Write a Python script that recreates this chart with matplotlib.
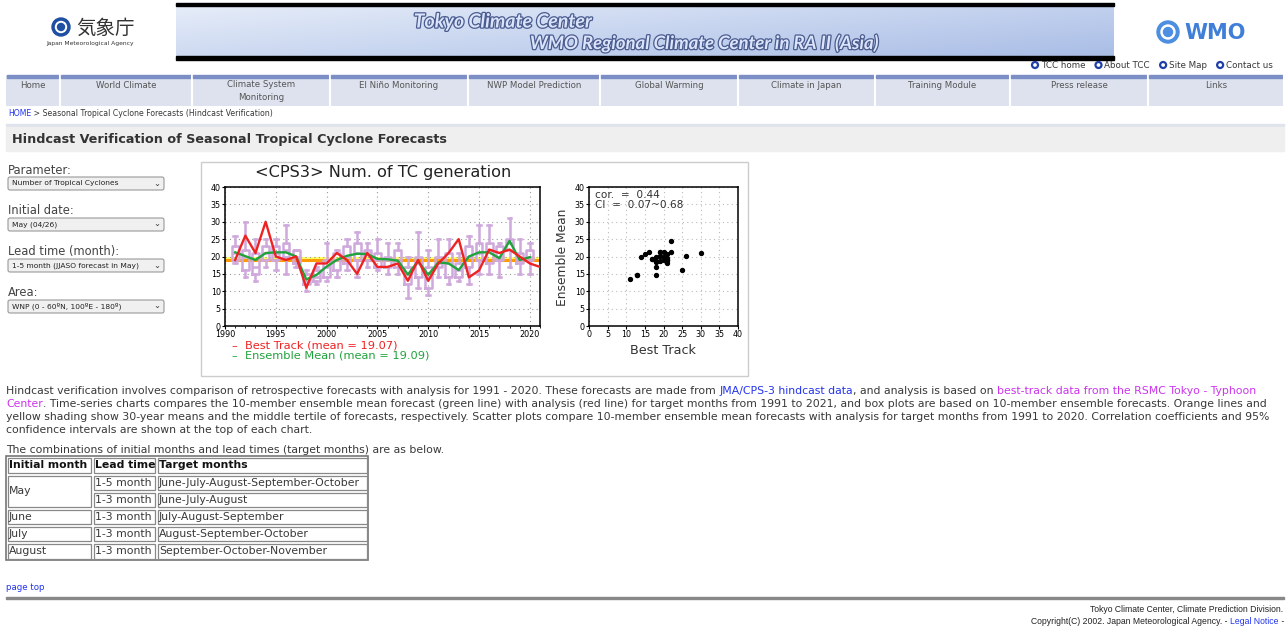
import numpy as np
import matplotlib.pyplot as plt
from matplotlib.patches import Rectangle, FancyBboxPatch, Circle
import matplotlib.patheffects as pe

# ---- data ----
years = list(range(1991, 2022))
best_track = [19, 26, 21, 30, 20, 19, 20, 11, 18, 18, 21, 19, 15, 21, 17, 17,
              18, 13, 19, 13, 18, 21, 25, 14, 16, 22, 21, 22, 20, 18, 17]
ens_years = list(range(1991, 2021))
ens_mean = [21.2, 20.1, 19.0, 21.0, 21.2, 21.2, 20.0, 13.4, 14.7, 17.1,
            19.0, 20.2, 20.8, 20.7, 19.3, 19.2, 18.8, 14.8, 18.7, 14.7,
            18.3, 18.0, 16.1, 20.0, 21.2, 21.2, 19.5, 24.5, 19.0, 19.8]
# 10-member ensemble box plots
box_lo  = [18, 14, 13, 17, 16, 15, 17, 10, 12, 13, 14, 16, 14, 17, 16, 15, 15,  8, 11,  9, 14, 12, 13, 12, 15, 15, 14, 17, 15, 15]
box_q1  = [19, 16, 15, 19, 19, 20, 18, 12, 13, 14, 16, 18, 19, 19, 17, 17, 17, 12, 14, 11, 17, 14, 14, 17, 19, 18, 19, 22, 18, 19]
box_med = [21, 20, 17, 21, 21, 22, 20, 13, 14, 17, 19, 20, 21, 21, 19, 19, 19, 15, 18, 14, 18, 18, 16, 20, 21, 22, 20, 24, 19, 20]
box_q3  = [23, 22, 21, 23, 23, 24, 22, 15, 16, 19, 21, 23, 24, 22, 21, 20, 22, 17, 20, 17, 20, 21, 18, 23, 24, 24, 23, 25, 21, 22]
box_hi  = [26, 30, 25, 25, 25, 29, 22, 16, 17, 24, 22, 25, 27, 24, 25, 24, 24, 20, 27, 22, 25, 25, 21, 26, 29, 29, 24, 31, 25, 24]
clim_mean = 19.09
tercile = (18.7, 20.0)
best_mean, ens_mean_avg = 19.07, 19.09
cor, ci_lo, ci_hi = 0.44, 0.07, 0.68

nav_items = ["Home", "World Climate", "Climate System\nMonitoring", "El Niño Monitoring",
             "NWP Model Prediction", "Global Warming", "Climate in Japan",
             "Training Module", "Press release", "Links"]
nav_edges = [6, 60, 192, 330, 468, 600, 738, 875, 1010, 1148, 1284]
form_labels = ["Parameter:", "Initial date:", "Lead time (month):", "Area:"]
form_values = ["Number of Tropical Cyclones", "May (04/26)",
               "1-5 month (JJASO forecast in May)", "WNP (0 - 60ºN, 100ºE - 180º)"]
table_rows = [("1-5 month", "June-July-August-September-October"),
              ("1-3 month", "June-July-August"),
              ("1-3 month", "July-August-September"),
              ("1-3 month", "August-September-October"),
              ("1-3 month", "September-October-November")]
table_init = ["May", "June", "July", "August"]

W, H = 1287, 630
fig = plt.figure(figsize=(W / 100, H / 100), dpi=100)
page = fig.add_axes([0, 0, 1, 1])
page.set_xlim(0, W)
page.set_ylim(H, 0)
page.axis('off')
renderer = fig.canvas.get_renderer()

TXT = '#383838'
LINK = '#2233ee'
MAG = '#cc33ee'


def text_w(s, **kw):
    t = page.text(0, 0, s, **kw)
    w = t.get_window_extent(renderer).width
    t.remove()
    return w


def run_w(s, **kw):
    return text_w('|' + s + '|', **kw) - text_w('||', **kw)


def fit(s, width, **kw):
    return 10 * width / run_w(s, fontsize=10, **kw)


def runs(x, y, parts, **kw):
    for s, c in parts:
        page.text(x, y, s, color=c, va='center', **kw)
        x += run_w(s, **kw)


def ax_at(x0, y0, x1, y1):
    return fig.add_axes([x0 / W, 1 - y1 / H, (x1 - x0) / W, (y1 - y0) / H])


# ---- header ----
grad = np.linspace(0, 1, 200)[None, :] * 0.6 + np.linspace(0, 1, 40)[:, None] * 0.4
page.imshow(grad, extent=[176, 1114, 57, 5], cmap=plt.matplotlib.colors.LinearSegmentedColormap.from_list(
    'b', ['#e6edf9', '#a9bde6']), aspect='auto', zorder=1)
page.add_patch(Rectangle((176, 3), 938, 3, color='black', zorder=2))
page.add_patch(Rectangle((176, 56), 938, 4, color='black', zorder=2))
banner_fx = [pe.withStroke(linewidth=1.8, foreground='#4a5b8e')]
page.text(503, 22, "Tokyo Climate Center", fontsize=14, style='italic', weight='bold',
          family='Lato', color='#dbe4fb', ha='center', va='center', path_effects=banner_fx, zorder=3)
page.text(704, 43, "WMO Regional Climate Center in RA II (Asia)", fontsize=13.3, style='italic',
          weight='bold', family='Lato', color='#dbe4fb', ha='center', va='center',
          path_effects=banner_fx, zorder=3)

# JMA logo
page.add_patch(Circle((61, 27), 9, color='#1f4fa3', zorder=2))
page.add_patch(Circle((61, 27), 5.5, color='white', zorder=3))
page.add_patch(Circle((61, 27), 3.5, color='#1f4fa3', zorder=4))
page.text(76, 28, "気象庁", fontsize=14, family=['Noto Sans CJK JP', 'DejaVu Sans'],
          color='#333333', va='center')
page.text(90, 44, "Japan Meteorological Agency", fontsize=4.3, color='#333333',
          ha='center', va='center')

# WMO logo
page.add_patch(Circle((1168, 32), 11, color='#4d8ee0', zorder=2))
page.add_patch(Circle((1168, 32), 7, color='white', zorder=3))
page.add_patch(Circle((1168, 32), 4.5, color='#4d8ee0', zorder=4))
page.text(1184, 33, "WMO", fontsize=15, weight='bold', color='#3f7fd8', va='center')

# top links
x = 1032
for lab in ["TCC home", "About TCC", "Site Map", "Contact us"]:
    page.add_patch(Circle((x + 3, 65), 3, facecolor='white', edgecolor='#1f3fa8', lw=1.6, zorder=3))
    page.text(x + 9, 66, lab, fontsize=6.3, color=TXT, va='center')
    x += 9 + run_w(lab, fontsize=6.3) + 10

# nav bar
page.add_patch(Rectangle((6, 75), 1278, 31, facecolor='#dde2ee', edgecolor='none'))
for a, b, lab in zip(nav_edges[:-1], nav_edges[1:], nav_items):
    page.add_patch(Rectangle((a + 1, 75), b - a - 2, 2.5, color='#7b8ec6', zorder=2))
    page.plot([b, b], [75, 106], color='white', lw=1.5)
    page.text((a + b) / 2, 86 if '\n' not in lab else 91, lab, fontsize=6.2, color='#555555',
              ha='center', va='center', linespacing=1.5)

runs(8, 114, [("HOME", LINK), (" > Seasonal Tropical Cyclone Forecasts (Hindcast Verification)", TXT)],
     fontsize=5.6)
page.add_patch(Rectangle((6, 124), 1278, 2, color='#dfe4ec'))
page.add_patch(Rectangle((6, 127), 1278, 24, color='#efefef'))
page.text(12, 139, "Hindcast Verification of Seasonal Tropical Cyclone Forecasts", fontsize=9.2,
          weight='bold', color='#333333', va='center')

# form
for i, (lab, val) in enumerate(zip(form_labels, form_values)):
    y = 170 + i * 41
    page.text(8, y, lab, fontsize=8.3, color='#444444', va='center')
    page.add_patch(FancyBboxPatch((8, y + 7), 156, 13, boxstyle='round,pad=0,rounding_size=2',
                                  facecolor='#f0f0f0', edgecolor='#999999', lw=0.8))
    page.text(12, y + 13.5, val, fontsize=5.4, color='#222222', va='center')
    page.text(157, y + 13, "⌄", fontsize=6, color='#333333', ha='center', va='center')

# chart frame
page.add_patch(Rectangle((201, 162), 547, 214, facecolor='white', edgecolor='#cccccc', lw=1))

# ---- time series ----
ts = ax_at(225, 187, 540, 326)
ts.axhspan(*tercile, color='#ffff66', zorder=1, lw=0)
ts.axhline(clim_mean, color='#ff9a00', lw=2.2, zorder=2)
stats = [dict(med=m, q1=a, q3=b, whislo=lo, whishi=hi, fliers=[])
         for lo, a, m, b, hi in zip(box_lo, box_q1, box_med, box_q3, box_hi)]
purple = '#cfa8dc'
ts.bxp(stats, positions=ens_years, widths=0.68, manage_ticks=False,
       boxprops=dict(color=purple, lw=1.8), whiskerprops=dict(color=purple, lw=1.8),
       capprops=dict(color=purple, lw=1.8), medianprops=dict(color=purple, lw=1.8), zorder=3)
ts.plot(years, best_track, color='#ee2222', lw=1.7, zorder=5)
ts.plot(ens_years, ens_mean, color='#1fa33b', lw=1.7, zorder=4)
ts.set_xlim(1990, 2021)
ts.set_ylim(0, 40)
ts.set_xticks(range(1990, 2021, 5))
ts.set_xticks(range(1990, 2022), minor=True)
ts.set_yticks(range(0, 41, 5))
ts.grid(True, color='#999999', ls=(0, (1, 3)), lw=0.8)
ts.tick_params(labelsize=5.8, length=2.5, width=0.8, pad=0.5)
ts.tick_params(which='minor', length=1.5)
for s in ts.spines.values():
    s.set_linestyle((0, (3, 1)))
    s.set_linewidth(1.1)
page.text(383, 173, "<CPS3> Num. of TC generation", fontsize=11.6, color='#222222',
          ha='center', va='center')
page.text(232, 346, "–  Best Track (mean = %.2f)" % best_mean, fontsize=8.2, color='#ee2222',
          va='center')
page.text(232, 356, "–  Ensemble Mean (mean = %.2f)" % ens_mean_avg, fontsize=8.2, color='#1fa33b',
          va='center')

# ---- scatter ----
sc = ax_at(589, 187, 738, 326)
sc.scatter(best_track[:len(ens_mean)], ens_mean, s=8, color='black', zorder=3)
sc.set_xlim(0, 40)
sc.set_ylim(0, 40)
sc.set_xticks(range(0, 41, 5))
sc.set_yticks(range(0, 41, 5))
sc.grid(True, color='#bbbbbb', ls=(0, (1, 3)), lw=0.8)
sc.tick_params(labelsize=5.8, length=2, width=0.8, pad=1)
for s in sc.spines.values():
    s.set_linestyle((0, (3, 1)))
    s.set_linewidth(1.1)
sc.text(0.04, 0.975, "cor.  =  %.2f\nCI  =  %.2f~%.2f" % (cor, ci_lo, ci_hi), transform=sc.transAxes,
        fontsize=7.6, color='#333333', va='top', linespacing=0.95)
page.text(563, 257, "Ensemble Mean", fontsize=8.8, color='#333333', rotation=90,
          ha='center', va='center')
page.text(663, 350, "Best Track", fontsize=9.2, color='#333333', ha='center', va='center')

# ---- paragraph ----
para = [
    [("Hindcast verification involves comparison of retrospective forecasts with analysis for 1991 - 2020. "
      "These forecasts are made from ", TXT), ("JMA/CPS-3 hindcast data", LINK),
     (", and analysis is based on ", TXT), ("best-track data from the RSMC Tokyo - Typhoon", MAG)],
    [("Center", MAG), (". Time-series charts compares the 10-member ensemble mean forecast (green line) with "
      "analysis (red line) for target months from 1991 to 2021, and box plots are based on 10-member "
      "ensemble forecasts. Orange lines and", TXT)],
    [("yellow shading show 30-year means and the middle tertile of forecasts, respectively. Scatter plots "
      "compare 10-member ensemble mean forecasts with analysis for target months from 1991 to 2020. "
      "Correlation coefficients and 95%", TXT)],
    [("confidence intervals are shown at the top of each chart.", TXT)],
]
psize = fit(para[2][0][0], 1262)
for i, line in enumerate(para):
    runs(6, 391 + i * 13, line, fontsize=psize)
runs(6, 450, [("The combinations of initial months and lead times (target months) are as below.", TXT)],
     fontsize=psize)

# ---- table ----
cols = [6, 92, 156, 368]
rows = [456, 474, 491, 508, 525, 542, 560]
page.add_patch(Rectangle((cols[0], rows[0]), cols[-1] - cols[0], rows[-1] - rows[0],
                         facecolor='none', edgecolor='#777777', lw=1.2))


def cell(x0, x1, y0, y1, s, bold=False):
    page.add_patch(Rectangle((x0 + 2, y0 + 1.5), x1 - x0 - 3, y1 - y0 - 3,
                             facecolor='none', edgecolor='#888888', lw=0.9))
    page.text(x0 + 3, (y0 + y1) / 2 + 0.5, s, fontsize=psize, color='#111111' if bold else TXT,
              weight='bold' if bold else 'normal', va='center')


for j, h in enumerate(["Initial month", "Lead time", "Target months"]):
    cell(cols[j], cols[j + 1], rows[0], rows[1], h, bold=True)
cell(cols[0], cols[1], rows[1], rows[3], table_init[0])
for i, nm in enumerate(table_init[1:]):
    cell(cols[0], cols[1], rows[i + 3], rows[i + 4], nm)
for i, (lead, tgt) in enumerate(table_rows):
    cell(cols[1], cols[2], rows[i + 1], rows[i + 2], lead)
    cell(cols[2], cols[3], rows[i + 1], rows[i + 2], tgt)

# ---- footer ----
page.text(6, 587, "page top", fontsize=6.2, color=LINK, va='center')
page.add_patch(Rectangle((6, 597), 1278, 2, color='#888888'))
page.text(1283, 609, "Tokyo Climate Center, Climate Prediction Division.", fontsize=6.2,
          family='Liberation Sans', color='#222222', ha='right', va='center')
fx = dict(fontsize=6.2, family='Liberation Sans')
tail = [("Copyright(C) 2002. Japan Meteorological Agency. - ", '#222222'), ("Legal Notice", LINK),
        (" -", '#222222')]
total = sum(run_w(s, **fx) for s, _ in tail)
runs(1284 - total, 621, tail, **fx)

fig.savefig('out.png', dpi=100)
